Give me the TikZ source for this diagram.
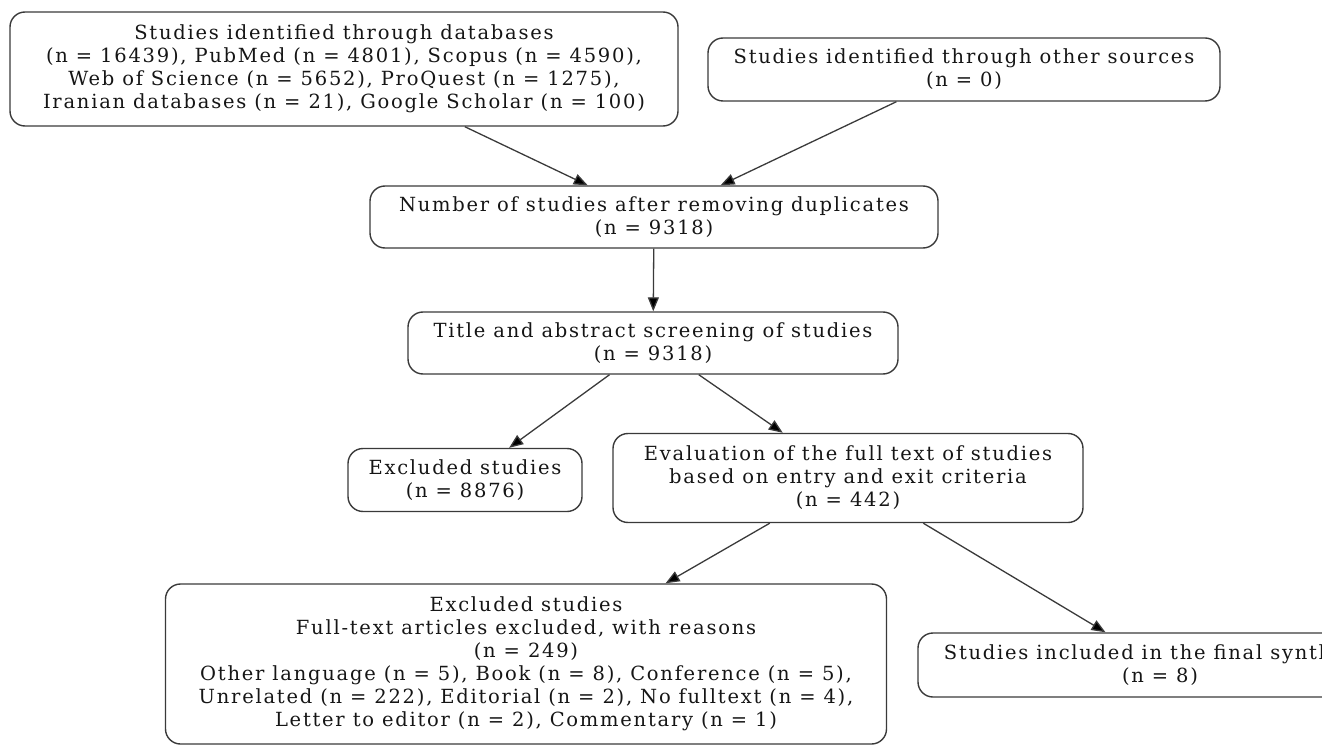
\documentclass[tikz,border=0pt]{standalone}
\usepackage{fontspec}
\setmainfont{DejaVu Serif}[LetterSpace=9]
\usepackage{tikz}
\usetikzlibrary{arrows.meta}

\definecolor{linegray}{HTML}{3A3A3A}
\definecolor{textgray}{HTML}{151515}

\tikzset{
  flowbox/.style={draw=linegray, line width=1.4pt, rounded corners=15pt,
    align=center, inner sep=0pt, text=textgray,
    font=\fontsize{19.5}{23}\selectfont},
  flowarrow/.style={->, draw=linegray, line width=1.3pt}
}

\begin{document}
\begin{tikzpicture}[x=1pt,y=-1pt]
\clip (0,0) rectangle (1322,746);
\begin{scope}[>={Triangle[length=14pt,width=11pt,fill=black]}]

    % sources
    \node[flowbox, minimum width=668pt, minimum height=114pt] (db) at (344,69)
      {Studies identified through databases\\
       (n = 16439), PubMed (n = 4801), Scopus (n = 4590),\\
       Web of Science (n = 5652), ProQuest (n = 1275),\\
       Iranian databases (n = 21), Google Scholar (n = 100)};
    \node[flowbox, minimum width=512pt, minimum height=63pt] (other) at (964,69.5)
      {Studies identified through other sources\\(n = 0)};

    % screening
    \node[flowbox, minimum width=568pt, minimum height=62pt] (dup) at (654,217)
      {Number of studies after removing duplicates\\(n = 9318)};
    \node[flowbox, minimum width=490pt, minimum height=62pt] (screen) at (653,343)
      {Title and abstract screening of studies\\(n = 9318)};

    % eligibility
    \node[flowbox, minimum width=234pt, minimum height=63pt] (excl) at (465,480)
      {Excluded studies\\(n = 8876)};
    \node[flowbox, minimum width=470pt, minimum height=89pt] (fulltext) at (848,478)
      {Evaluation of the full text of studies\\based on entry and exit criteria\\(n = 442)};

    % results
    \node[flowbox, minimum width=721pt, minimum height=160pt] (exclfull) at (526,664)
      {Excluded studies\\
       Full-text articles excluded, with reasons\\
       (n = 249)\\
       Other language (n = 5), Book (n = 8), Conference (n = 5),\\
       Unrelated (n = 222), Editorial (n = 2), No fulltext (n = 4),\\
       Letter to editor (n = 2), Commentary (n = 1)};
    \node[flowbox, minimum width=484pt, minimum height=64pt] (incl) at (1160,665)
      {Studies included in the final synthesis\\(n = 8)};

    \draw[flowarrow] (db) -- (dup);
    \draw[flowarrow] (other) -- (dup);
    \draw[flowarrow] (dup) -- (screen);
    \draw[flowarrow] (screen) -- (excl);
    \draw[flowarrow] (screen) -- (fulltext);
    \draw[flowarrow] (fulltext) -- (exclfull);
    \draw[flowarrow] (fulltext) -- (incl);

\end{scope}
\end{tikzpicture}
\end{document}
